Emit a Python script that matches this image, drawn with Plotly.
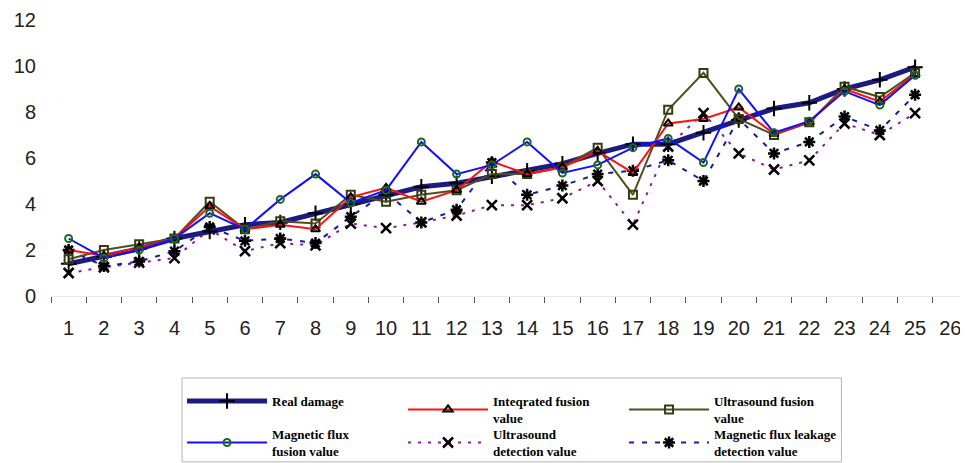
import plotly.graph_objects as go

categories = [str(i) for i in range(1, 27)]
samples = categories[:25]

real_damage = [1.4, 1.7, 2.05, 2.5, 2.8, 3.1, 3.2, 3.6, 4.0, 4.4, 4.75, 4.9, 5.2,
               5.45, 5.75, 6.2, 6.6, 6.6, 7.1, 7.65, 8.15, 8.4, 9.0, 9.4, 9.95]
integrated_fusion = [2.0, 1.75, 2.1, 2.5, 3.9, 2.9, 3.1, 2.9, 4.3, 4.7, 4.1, 4.6, 5.85,
                     5.3, 5.6, 6.3, 5.35, 7.5, 7.7, 8.2, 7.05, 7.55, 9.0, 8.45, 9.65]
ultrasound_fusion = [1.6, 2.0, 2.25, 2.5, 4.1, 2.9, 3.25, 3.15, 4.4, 4.1, 4.4, 4.6, 5.3,
                     5.3, 5.6, 6.45, 4.4, 8.1, 9.7, 7.7, 7.0, 7.55, 9.1, 8.65, 9.7]
magnetic_fusion = [2.5, 1.65, 2.0, 2.5, 3.6, 2.9, 4.2, 5.3, 4.05, 4.6, 6.7, 5.3, 5.7,
                   6.7, 5.35, 5.7, 6.45, 6.85, 5.8, 9.0, 7.1, 7.6, 8.9, 8.3, 9.6]
ultrasound_detection = [1.0, 1.25, 1.45, 1.65, 2.9, 1.95, 2.3, 2.2, 3.15, 2.95, 3.2, 3.5, 3.95,
                        3.95, 4.25, 5.0, 3.1, 6.5, 7.95, 6.2, 5.5, 5.9, 7.5, 7.0, 7.95]
mfl_detection = [2.0, 1.3, 1.5, 1.95, 3.0, 2.4, 2.5, 2.3, 3.45, 4.5, 3.2, 3.75, 5.8,
                 4.4, 4.8, 5.3, 5.45, 5.9, 5.0, 7.7, 6.2, 6.7, 7.8, 7.2, 8.75]

y_ticks = [0, 2, 4, 6, 8, 10, 12]

fig = go.Figure()

fig.add_trace(go.Scatter(
    x=samples, y=ultrasound_detection, mode="lines+markers",
    name="<b>Ultrasound<br>detection value</b>", legend="legend2",
    line=dict(color="#8b1a9b", width=2, dash="3px,7px"),
    marker=dict(symbol="x-thin", size=10, color="black", line=dict(color="black", width=2.5)),
    legendrank=2))
fig.add_trace(go.Scatter(
    x=samples, y=mfl_detection, mode="lines+markers",
    name="<b>Magnetic flux leakage<br>detection value</b>", legend="legend2",
    line=dict(color="#1a1a9e", width=2, dash="5px,8px"),
    marker=dict(symbol="asterisk-open", size=10, color="black", line=dict(color="black", width=2.5)),
    legendrank=3))
fig.add_trace(go.Scatter(
    x=samples, y=real_damage, mode="lines+markers", name="<b>Real damage</b>",
    legend="legend",
    line=dict(color="#1c1c80", width=5),
    marker=dict(symbol="cross-thin", size=11, color="black", line=dict(color="black", width=2)),
    legendrank=1))
fig.add_trace(go.Scatter(
    x=samples, y=ultrasound_fusion, mode="lines+markers", name="<b>Ultrasound fusion<br>value</b>",
    legend="legend",
    line=dict(color="#4f4f1f", width=2),
    marker=dict(symbol="square-open", size=8, color="#3a3a10", line=dict(color="#3a3a10", width=2)),
    legendrank=3))
fig.add_trace(go.Scatter(
    x=samples, y=integrated_fusion, mode="lines+markers", name="<b>Inteqrated fusion<br>value</b>",
    legend="legend",
    line=dict(color="#ff1010", width=2),
    marker=dict(symbol="triangle-up-open", size=8, color="black", line=dict(color="black", width=2)),
    legendrank=2))
fig.add_trace(go.Scatter(
    x=samples, y=magnetic_fusion, mode="lines+markers", name="<b>Magnetic flux<br>fusion value</b>",
    legend="legend2",
    line=dict(color="#1010ff", width=2),
    marker=dict(symbol="circle-open", size=7, color="#1a6a1a", line=dict(color="#1a6a1a", width=2)),
    legendrank=1))

legend_common = dict(
    orientation="h", xanchor="left", yanchor="top",
    entrywidth=126, entrywidthmode="pixels", itemwidth=80,
    borderwidth=0, bgcolor="rgba(0,0,0,0)",
    font=dict(family="Liberation Serif, Times New Roman, serif", size=13, color="black"),
    traceorder="normal")

fig.update_layout(
    width=960, height=455,
    margin=dict(l=43, r=0, t=12, b=167, autoexpand=False),
    paper_bgcolor="white", plot_bgcolor="white",
    font=dict(family="Liberation Sans, Arial, sans-serif", size=20, color="#222222"),
    xaxis=dict(
        type="category", categoryorder="array", categoryarray=categories,
        range=[-0.5, 25.5], tickson="boundaries", ticks="outside", ticklen=6,
        tickcolor="#555555", tickwidth=1, showline=True, linecolor="#e8e8e8",
        showgrid=False, zeroline=False, ticklabelstandoff=14,
        tickfont=dict(size=20, color="#222222")),
    yaxis=dict(
        range=[0, 12], tickvals=y_ticks, ticks="", showgrid=False, zeroline=False,
        showline=False, ticklabelstandoff=14, tickfont=dict(size=20, color="#222222")),
    legend=dict(legend_common, x=0.1429, y=-0.326),
    legend2=dict(legend_common, x=0.1429, y=-0.446),
    shapes=[dict(type="rect", xref="paper", yref="paper",
                 x0=0.1429, x1=0.862, y0=-0.297, y1=-0.601,
                 line=dict(color="#b5b5b5", width=1), fillcolor="rgba(0,0,0,0)",
                 layer="below")],
    showlegend=True,
)

fig.write_html("out.html")
